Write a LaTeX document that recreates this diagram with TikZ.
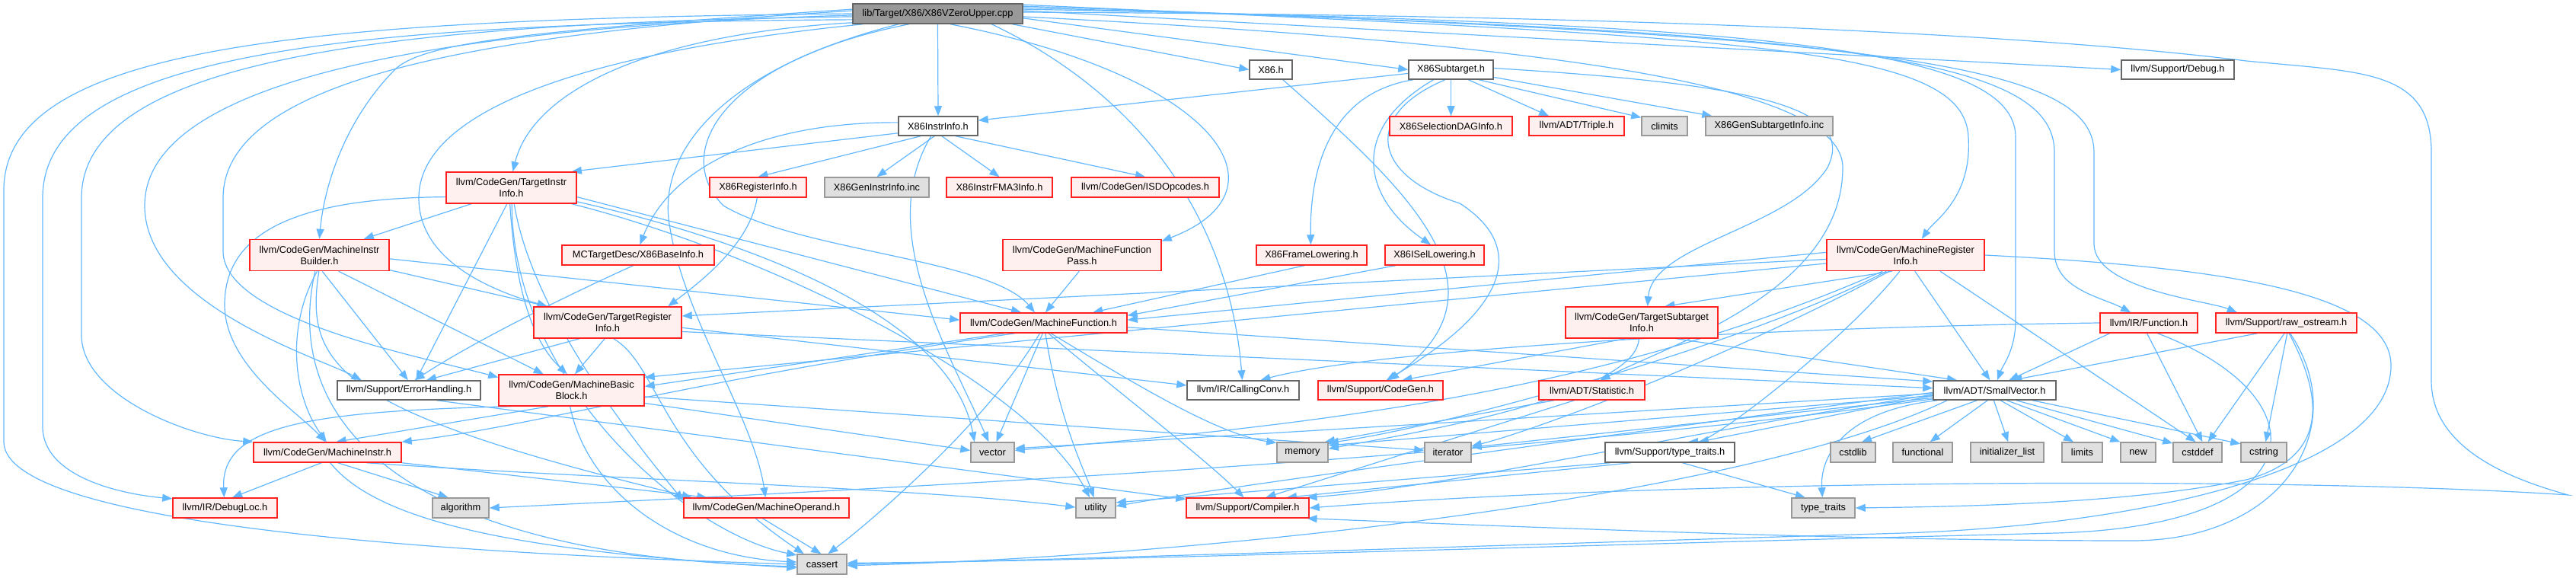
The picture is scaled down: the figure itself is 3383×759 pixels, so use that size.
\documentclass[tikz,border=0pt]{standalone}
\usepackage{fontspec}
\setmainfont{Liberation Sans}
\usetikzlibrary{arrows.meta}
\definecolor{edgec}{HTML}{63B8FF}
\definecolor{redfill}{HTML}{FFF0F0}
\definecolor{grayfill}{HTML}{E0E0E0}
\definecolor{grayline}{HTML}{999999}
\definecolor{darkline}{HTML}{666666}
\definecolor{topfill}{HTML}{999999}
\definecolor{redline}{HTML}{FF2020}
\pgfdeclarelayer{bglayer}
\pgfdeclarelayer{edgelayer}
\pgfsetlayers{bglayer,edgelayer,main}
\newcommand{\mk}[7]{\node[#1, minimum width=#5pt, minimum height=#6pt] (#2) at (#3,#4) {#7};}
\tikzset{
  box/.style={draw, line width=1.5pt, inner sep=0pt, align=center, font=\fontsize{12.8}{15}\selectfont},
  rn/.style={box, draw=redline, fill=redfill},
  gn/.style={box, draw=grayline, fill=grayfill},
  wn/.style={box, draw=darkline, fill=white},
  tn/.style={box, draw=darkline, fill=topfill},
  e/.style={draw=edgec, line width=1.2pt, -{Triangle[length=13pt,width=10pt]}},
}
\begin{document}
\begin{tikzpicture}[x=1pt,y=-1pt]
\begin{pgfonlayer}{bglayer}
\fill[white] (0,0) rectangle (3383,759);
\end{pgfonlayer}
\useasboundingbox (0,0) rectangle (3383,759);
\mk{tn}{top}{1231.5}{18}{223}{26}{lib/Target/X86/X86VZeroUpper.cpp}
\mk{wn}{x86h}{1669}{91.5}{56}{25}{X86.h}
\mk{wn}{subt}{1905.5}{91.5}{111}{25}{X86Subtarget.h}
\mk{wn}{debug}{2860}{91.5}{148}{25}{llvm/Support/Debug.h}
\mk{wn}{instr}{1232}{165.5}{104}{25}{X86InstrInfo.h}
\mk{rn}{tii}{671.5}{246.5}{171}{41}{llvm/CodeGen/TargetInstr\\Info.h}
\mk{rn}{reginfo}{995.5}{246}{127}{26}{X86RegisterInfo.h}
\mk{gn}{geninstr}{1151.5}{246}{137}{26}{X86GenInstrInfo.inc}
\mk{rn}{fma}{1312.5}{246}{139}{26}{X86InstrFMA3Info.h}
\mk{rn}{isd}{1504}{246}{194}{26}{llvm/CodeGen/ISDOpcodes.h}
\mk{rn}{seldag}{1905.5}{165.5}{161}{25}{X86SelectionDAGInfo.h}
\mk{rn}{triple}{2070.5}{165.5}{125}{25}{llvm/ADT/Triple.h}
\mk{gn}{climits}{2186}{165.5}{60}{25}{climits}
\mk{gn}{gensub}{2323.5}{165.5}{167}{25}{X86GenSubtargetInfo.inc}
\mk{rn}{mib}{419.5}{335}{183}{41}{llvm/CodeGen/MachineInstr\\Builder.h}
\mk{rn}{baseinfo}{838}{335}{200}{26}{MCTargetDesc/X86BaseInfo.h}
\mk{rn}{mfp}{1421}{335}{208}{41}{llvm/CodeGen/MachineFunction\\Pass.h}
\mk{rn}{frame}{1722.5}{335}{145}{26}{X86FrameLowering.h}
\mk{rn}{isel}{1884}{335}{130}{26}{X86ISelLowering.h}
\mk{rn}{mri}{2502.5}{335}{207}{41}{llvm/CodeGen/MachineRegister\\Info.h}
\mk{rn}{tri}{798}{423.5}{194}{41}{llvm/CodeGen/TargetRegister\\Info.h}
\mk{rn}{mf}{1370.5}{424}{219}{26}{llvm/CodeGen/MachineFunction.h}
\mk{rn}{tsi}{2156}{423.5}{200}{41}{llvm/CodeGen/TargetSubtarget\\Info.h}
\mk{rn}{func}{2822}{424}{128}{26}{llvm/IR/Function.h}
\mk{rn}{raw}{3002.5}{424}{185}{26}{llvm/Support/raw\_ostream.h}
\mk{wn}{err}{537}{512.5}{188}{25}{llvm/Support/ErrorHandling.h}
\mk{rn}{mbb}{750.5}{512.5}{191}{41}{llvm/CodeGen/MachineBasic\\Block.h}
\mk{wn}{cc}{1632.5}{512.5}{147}{25}{llvm/IR/CallingConv.h}
\mk{rn}{cgen}{1813}{512.5}{164}{25}{llvm/Support/CodeGen.h}
\mk{rn}{stat}{2090.5}{512.5}{139}{25}{llvm/ADT/Statistic.h}
\mk{wn}{sv}{2619.5}{512.5}{161}{25}{llvm/ADT/SmallVector.h}
\mk{rn}{mi}{430}{594}{194}{26}{llvm/CodeGen/MachineInstr.h}
\mk{gn}{vector}{1303.5}{594}{57}{26}{vector}
\mk{gn}{memory}{1710.5}{594}{67}{26}{memory}
\mk{gn}{iterator}{1901.5}{594}{61}{26}{iterator}
\mk{wn}{tth}{2193}{594}{170}{26}{llvm/Support/type\_traits.h}
\mk{gn}{cstdlib}{2433.5}{594}{59}{26}{cstdlib}
\mk{gn}{functional}{2525}{594}{78}{26}{functional}
\mk{gn}{initlist}{2636}{594}{96}{26}{initializer\_list}
\mk{gn}{limits}{2734.5}{594}{53}{26}{limits}
\mk{gn}{new}{2808}{594}{46}{26}{new}
\mk{gn}{cstddef}{2886}{594}{64}{26}{cstddef}
\mk{gn}{cstring}{2973}{594}{60}{26}{cstring}
\mk{rn}{debugloc}{295.5}{667}{137}{26}{llvm/IR/DebugLoc.h}
\mk{gn}{algorithm}{605}{667}{74}{26}{algorithm}
\mk{rn}{mop}{1006.5}{667}{217}{26}{llvm/CodeGen/MachineOperand.h}
\mk{gn}{utility}{1439}{667}{52}{26}{utility}
\mk{rn}{compiler}{1638.5}{667}{161}{26}{llvm/Support/Compiler.h}
\mk{gn}{typetraits}{2394.5}{667}{83}{26}{type\_traits}
\mk{gn}{cassert}{1079.5}{741}{65}{26}{cassert}
\begin{pgfonlayer}{edgelayer}
% from top
\draw[e] (top.-8) -- (x86h.west);
\draw[e] (top.south) -- (instr.north);
\draw[e] (top.-3) -- (subt.west);
\draw[e] (top.2) -- (debug.west);
\draw[e] (top.1) .. controls (2300,20) and (2750,55) .. (2950,80) .. controls (3100,95) and (3193,90) .. (3193,200) -- (3193,500) .. controls (3193,590) and (3300,630) .. (3373,650) .. controls (3000,625) and (2200,630) .. (compiler.east);
\draw[e] (top.3) .. controls (2300,30) and (2647,60) .. (2647,180) -- (2647,420) .. controls (2647,460) and (2630,480) .. (sv.75);
\draw[e] (top.4) .. controls (2400,40) and (2698,70) .. (2698,200) -- (2698,330) .. controls (2698,380) and (2760,390) .. (func.150);
\draw[e] (top.5) .. controls (2450,45) and (2750,80) .. (2750,200) -- (2750,320) .. controls (2750,380) and (2900,395) .. (raw.168);
\draw[e] (top.6) .. controls (2300,50) and (2580,60) .. (2585,180) .. controls (2590,260) and (2540,290) .. (mri.45);
\draw[e] (top.-2) .. controls (2100,60) and (2420,120) .. (2420,220) .. controls (2420,380) and (2200,450) .. (stat.50);
\draw[e] (top.180) .. controls (400,25) and (5,60) .. (5,250) -- (5,580) .. controls (5,700) and (700,730) .. (cassert.west);
\draw[e] (top.184) .. controls (450,30) and (56,70) .. (56,260) -- (56,560) .. controls (56,630) and (170,650) .. (debugloc.170);
\draw[e] (top.182) .. controls (500,30) and (107,80) .. (107,260) -- (107,440) .. controls (107,520) and (250,575) .. (mi.172);
\draw[e] (top.181) .. controls (600,35) and (190,100) .. (190,270) .. controls (190,400) and (420,470) .. (err.168);
\draw[e] (top.178) .. controls (700,40) and (293,90) .. (293,260) -- (293,330) .. controls (293,420) and (560,470) .. (mbb.170);
\draw[e] (top.177) .. controls (700,40) and (560,55) .. (520,90) .. controls (450,160) and (425,250) .. (mib.north);
\draw[e] (top.186) .. controls (850,45) and (700,120) .. (tii.85);
\draw[e] (top.188) .. controls (750,70) and (550,150) .. (550,260) .. controls (550,340) and (640,380) .. (tri.165);
\draw[e] (top.-40) .. controls (1600,100) and (1700,250) .. (mfp.10);
\draw[e] (top.-11) .. controls (1550,150) and (1620,350) .. (cc.95);
\draw[e] (top.-165) .. controls (950,90) and (860,200) .. (880,300) .. controls (900,420) and (990,550) .. (mop.95);
\draw[e] (top.-160) .. controls (950,80) and (880,200) .. (950,270) .. controls (1050,330) and (1300,340) .. (mf.130);
% X86InstrInfo
\draw[e] (instr.-150) -- (reginfo.north);
\draw[e] (instr.-110) -- (geninstr.north);
\draw[e] (instr.-70) -- (fma.north);
\draw[e] (instr.-30) -- (isd.north);
\draw[e] (instr.190) -- (tii.15);
\draw[e] (instr.175) .. controls (1000,160) and (880,220) .. (baseinfo.80);
\draw[e] (instr.-125) .. controls (1150,300) and (1240,450) .. (vector.110);
% X86Subtarget
\draw[e] (subt.185) -- (instr.8);
\draw[e] (subt.south) -- (seldag.north);
\draw[e] (subt.-30) -- (triple.160);
\draw[e] (subt.-20) -- (climits.160);
\draw[e] (subt.-10) -- (gensub.170);
\draw[e] (subt.-165) .. controls (1760,120) and (1720,200) .. (frame.95);
\draw[e] (subt.-150) .. controls (1770,170) and (1790,260) .. (isel.110);
\draw[e] (subt.-120) .. controls (1790,150) and (1800,230) .. (1917,267) .. controls (2000,320) and (1990,400) .. (cgen.60);
\draw[e] (subt.2) .. controls (2300,110) and (2440,140) .. (2400,220) .. controls (2350,300) and (2170,320) .. (tsi.70);
\draw[e] (x86h.-40) .. controls (1850,250) and (1990,380) .. (cgen.50);
% TargetInstrInfo
\draw[e] (tii.-158) -- (mib.20);
\draw[e] (tii.-95) .. controls (675,350) and (690,440) .. (mbb.105);
\draw[e] (tii.-105) -- (err.55);
\draw[e] (tii.188) .. controls (400,260) and (295,300) .. (295,400) .. controls (295,480) and (390,540) .. (mi.100);
\draw[e] (tii.-80) .. controls (700,420) and (850,600) .. (mop.175);
\draw[e] (tii.-8) -- (mf.155);
\draw[e] (tii.-12) .. controls (1000,320) and (1250,420) .. (vector.150);
\draw[e] (tii.-15) .. controls (1000,330) and (1350,500) .. (utility.120);
\draw[e] (tii.-88) .. controls (672,500) and (900,700) .. (cassert.160);
% MachineInstrBuilder
\draw[e] (mib.-98) .. controls (375,430) and (385,520) .. (mi.95);
\draw[e] (mib.-92) .. controls (400,480) and (440,540) .. (mop.172);
\draw[e] (mib.-80) -- (err.95);
\draw[e] (mib.-40) -- (mbb.150);
\draw[e] (mib.-12) -- (tri.165);
\draw[e] (mib.-3) -- (mf.178);
\draw[e] (mib.-105) .. controls (370,550) and (520,730) .. (cassert.185);
% others upper
\draw[e] (baseinfo.-115) .. controls (740,390) and (620,450) .. (err.60);
\draw[e] (reginfo.-95) .. controls (985,320) and (920,370) .. (tri.15);
\draw[e] (mfp.-100) -- (mf.80);
\draw[e] (frame.-125) -- (mf.12);
\draw[e] (isel.-165) -- (mf.5);
% MachineRegisterInfo
\draw[e] (mri.178) -- (mf.2);
\draw[e] (mri.183) -- (tri.5);
\draw[e] (mri.186) -- (mbb.10);
\draw[e] (mri.-130) -- (tsi.35);
\draw[e] (mri.-60) -- (sv.115);
\draw[e] (mri.-25) -- (cstddef.100);
\draw[e] (mri.-140) .. controls (2300,450) and (1900,560) .. (memory.20);
\draw[e] (mri.-135) .. controls (2250,480) and (2000,570) .. (iterator.15);
\draw[e] (mri.-145) .. controls (2100,520) and (1700,560) .. (vector.5);
\draw[e] (mri.-110) .. controls (2420,450) and (2250,580) .. (tth.30);
\draw[e] (mri.east) .. controls (2900,350) and (3140,380) .. (3140,480) .. controls (3140,620) and (2800,690) .. (2500,700) .. controls (2000,715) and (1400,735) .. (cassert.east);
% TargetRegisterInfo
\draw[e] (tri.-100) -- (mbb.78);
\draw[e] (tri.-150) -- (err.30);
\draw[e] (tri.-4) -- (cc.175);
\draw[e] (tri.-7) -- (sv.178);
\draw[e] (tri.-70) .. controls (866,480) and (866,600) .. (cassert.150);
% MachineFunction
\draw[e] (mf.-165) -- (mbb.3);
\draw[e] (mf.-160) .. controls (900,500) and (700,560) .. (mi.8);
\draw[e] (mf.-95) -- (vector.70);
\draw[e] (mf.-110) .. controls (1300,550) and (1150,680) .. (cassert.60);
\draw[e] (mf.-80) .. controls (1390,550) and (1425,620) .. (utility.100);
\draw[e] (mf.-65) .. controls (1450,500) and (1580,600) .. (compiler.110);
\draw[e] (mf.-55) .. controls (1500,510) and (1600,570) .. (memory.160);
\draw[e] (mf.-3) -- (sv.172);
% TargetSubtargetInfo
\draw[e] (tsi.-135) -- (cgen.25);
\draw[e] (tsi.-25) -- (sv.165);
\draw[e] (tsi.-100) .. controls (2150,520) and (1850,570) .. (memory.8);
% Function.h
\draw[e] (func.-165) -- (sv.35);
\draw[e] (func.-100) -- (cstddef.65);
\draw[e] (func.180) .. controls (2300,430) and (1800,460) .. (cc.30);
\draw[e] (func.-50) .. controls (3050,520) and (3050,690) .. (2700,700) .. controls (2100,715) and (1400,738) .. (cassert.3);
% raw_ostream
\draw[e] (raw.-160) -- (sv.30);
\draw[e] (raw.-100) -- (cstddef.45);
\draw[e] (raw.-85) -- (cstring.80);
\draw[e] (raw.-75) .. controls (3050,520) and (3060,600) .. (2950,630) .. controls (2800,660) and (2600,665) .. (typetraits.east);
\draw[e] (raw.-70) .. controls (3090,560) and (3000,710) .. (2800,710) .. controls (2500,710) and (2200,700) .. (compiler.-10);
% SmallVector
\draw[e] (sv.-125) -- (functional.55);
\draw[e] (sv.-95) -- (initlist.85);
\draw[e] (sv.-60) -- (limits.130);
\draw[e] (sv.-40) -- (new.150);
\draw[e] (sv.-25) -- (cstddef.160);
\draw[e] (sv.-15) -- (cstring.160);
\draw[e] (sv.-150) -- (cstdlib.50);
\draw[e] (sv.-170) .. controls (2420,540) and (2390,600) .. (typetraits.95);
\draw[e] (sv.-175) -- (tth.20);
\draw[e] (sv.185) -- (memory.15);
\draw[e] (sv.187) -- (iterator.12);
\draw[e] (sv.183) -- (vector.10);
\draw[e] (sv.-178) .. controls (2200,560) and (1600,640) .. (utility.5);
\draw[e] (sv.-176) .. controls (2200,570) and (1900,640) .. (compiler.10);
\draw[e] (sv.-172) .. controls (2000,600) and (1200,640) .. (algorithm.east);
\draw[e] (sv.-168) .. controls (2300,650) and (1600,730) .. (cassert.-3);
% type_traits.h, Statistic, ErrorHandling
\draw[e] (tth.-40) -- (typetraits.150);
\draw[e] (tth.195) -- (compiler.15);
\draw[e] (tth.190) -- (utility.15);
\draw[e] (stat.-150) -- (compiler.30);
\draw[e] (stat.-165) -- (memory.25);
\draw[e] (err.-20) -- (compiler.172);
% MachineBasicBlock
\draw[e] (mbb.-145) -- (mi.50);
\draw[e] (mbb.195) .. controls (400,540) and (290,560) .. (debugloc.95);
\draw[e] (mbb.-10) -- (vector.175);
\draw[e] (mbb.-95) .. controls (770,640) and (880,730) .. (cassert.175);
\draw[e] (mbb.-5) -- (iterator.175);
% MachineInstr
\draw[e] (mi.-120) -- (debugloc.55);
\draw[e] (mi.-45) -- (algorithm.140);
\draw[e] (mi.-8) -- (mop.170);
\draw[e] (mi.-75) .. controls (500,690) and (700,725) .. (cassert.188);
\draw[e] (mi.-15) .. controls (800,630) and (1200,640) .. (utility.178);
% MachineOperand
\draw[e] (mop.-110) -- (cassert.95);
\end{pgfonlayer}
\end{tikzpicture}
\end{document}
